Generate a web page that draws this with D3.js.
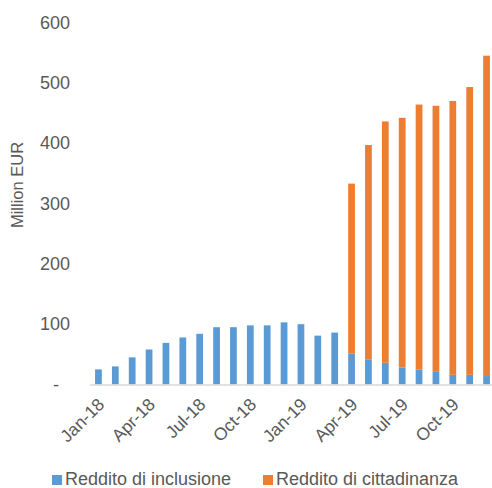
<!DOCTYPE html>
<html><head><meta charset="utf-8">
<script src="https://cdn.jsdelivr.net/npm/d3@7/dist/d3.min.js"></script>
<style>body{margin:0;background:#fff}svg{display:block}text{font-family:"Liberation Sans",Arial,sans-serif;fill:#595959}</style>
</head><body><svg id="c" width="492" height="488"></svg>
<script>
const months = ["Jan-18","Feb-18","Mar-18","Apr-18","May-18","Jun-18","Jul-18","Aug-18","Sep-18","Oct-18","Nov-18","Dec-18",
                "Jan-19","Feb-19","Mar-19","Apr-19","May-19","Jun-19","Jul-19","Aug-19","Sep-19","Oct-19","Nov-19","Dec-19"];
const redditoInclusione = [25,30,45,58,69,78,84,95,95,98,98,103,100,81,86,51,41,36,28,25,22,16,16,14];
const redditoCittadinanza = [0,0,0,0,0,0,0,0,0,0,0,0,0,0,0,282,356,400,414,439,440,454,477,531];
const yTicks = [0,100,200,300,400,500,600];
const xLabelMonths = ["Jan-18","Apr-18","Jul-18","Oct-18","Jan-19","Apr-19","Jul-19","Oct-19"];
const seriesNames = ["Reddito di inclusione","Reddito di cittadinanza"];
const colors = ["#5B9BD5","#ED7D31"];

const svg = d3.select("#c");
const x = d3.scaleBand().domain(months).range([90,495]).paddingInner(0.6).paddingOuter(0.3);
const y = d3.scaleLinear().domain([0,600]).range([384.5,22.5]);

const rows = months.map((m,i)=>({m, a:redditoInclusione[i], b:redditoCittadinanza[i]}));
const stack = d3.stack().keys(["a","b"])(rows);

svg.append("g").selectAll("g").data(stack).join("g")
  .attr("fill",(d,i)=>colors[i])
  .selectAll("rect").data(d=>d.filter(s=>s[1]-s[0]>0)).join("rect")
  .attr("x",d=>x(d.data.m)).attr("width",x.bandwidth())
  .attr("y",d=>y(d[1])).attr("height",d=>y(d[0])-y(d[1]));

// x axis line
svg.append("line").attr("x1",90).attr("x2",492).attr("y1",y(0)+0.5).attr("y2",y(0)+0.5)
  .attr("stroke","#d9d9d9").attr("stroke-width",1.5);

// y tick labels
svg.append("g").selectAll("text").data(yTicks).join("text")
  .attr("x",d=>d===0?59:70).attr("y",d=>y(d)).attr("dy","0.35em")
  .attr("text-anchor","end").style("font-size","18px")
  .text(d=>d===0?"-":d);

// x labels
svg.append("g").selectAll("text").data(xLabelMonths).join("text")
  .attr("text-anchor","end").style("font-size","17.5px")
  .attr("transform",d=>`translate(${x(d)+x.bandwidth()/2+7},${y(0)+21}) rotate(-45)`)
  .text(d=>d);

// y title
svg.append("text").attr("transform","translate(23,185) rotate(-90)")
  .attr("text-anchor","middle").style("font-size","16.5px").text("Million  EUR");

// legend
const leg = [{x:52,tx:65},{x:263,tx:276}];
leg.forEach((l,i)=>{
  svg.append("rect").attr("x",l.x).attr("y",475).attr("width",10).attr("height",10).attr("fill",colors[i]);
  svg.append("text").attr("x",l.tx).attr("y",485).style("font-size","18px").text(seriesNames[i]);
});
</script></body></html>
